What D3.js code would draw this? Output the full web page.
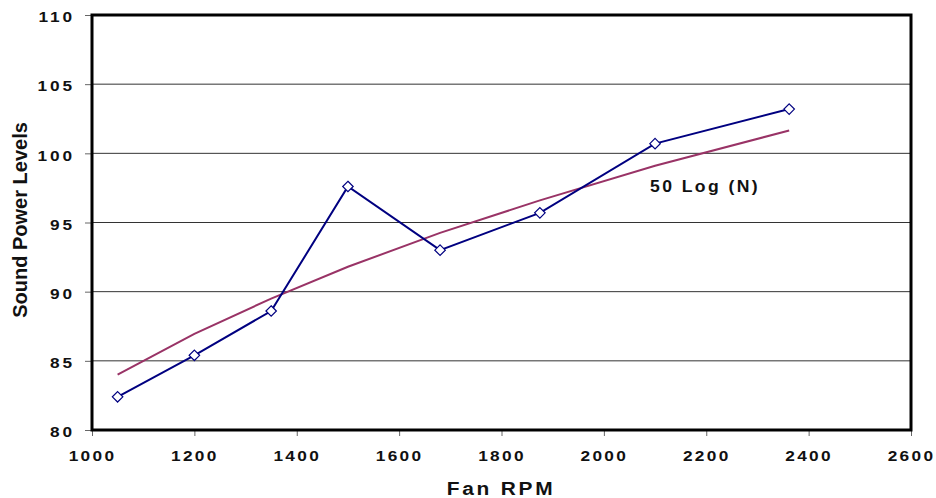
<!DOCTYPE html>
<html><head><meta charset="utf-8">
<script src="https://cdn.jsdelivr.net/npm/d3@7/dist/d3.min.js"></script>
<style>body{margin:0;background:#fff;} text{font-family:"Liberation Sans",Arial,sans-serif;font-weight:bold;}</style>
</head><body><svg id="c" width="936" height="498"></svg>
<script>
const rpm = [1050, 1200, 1350, 1500, 1680, 1875, 2100, 2362];
const measured = [82.4, 85.4, 88.6, 97.6, 93.0, 95.7, 100.7, 103.2];
const fiftyLog = [84.0, 86.95, 89.5, 91.8, 94.25, 96.6, 99.1, 101.65];
const xTicks = [1000, 1200, 1400, 1600, 1800, 2000, 2200, 2400, 2600];
const yTicks = [80, 85, 90, 95, 100, 105, 110];

const svg = d3.select("#c");
const L = 92, R = 911, T = 15, B = 430;
const x = d3.scaleLinear().domain([1000, 2600]).range([L, R]);
const y = d3.scaleLinear().domain([80, 110]).range([B, T]);

// gridlines
svg.append("g").selectAll("line").data(yTicks.slice(1, -1)).join("line")
  .attr("x1", L).attr("x2", R).attr("y1", d => y(d)).attr("y2", d => y(d))
  .attr("stroke", "#333").attr("stroke-width", 1);

// axes
const ya = svg.append("g").attr("transform", `translate(${L},0)`)
  .call(d3.axisLeft(y).tickValues(yTicks).tickSize(7));
const xa = svg.append("g").attr("transform", `translate(0,${B})`)
  .call(d3.axisBottom(x).tickValues(xTicks).tickSize(6).tickFormat(d3.format("d")));
[ya, xa].forEach(a => {
  a.select(".domain").remove();
  a.selectAll(".tick line").attr("stroke", "#666").attr("stroke-width", 1);
  a.selectAll(".tick text").attr("fill", "#111").style("font-size", "15px");
});
ya.selectAll(".tick text").style("letter-spacing", "2.5px").attr("x", 0).attr("dy", "0.45em")
  .attr("transform", "translate(-17,0) scale(1.15,1)");
xa.selectAll(".tick text").style("letter-spacing", "2px").attr("y", 0).attr("dy", 0).attr("x", 0)
  .attr("transform", "translate(0,30.5) scale(1.15,1)");

// frame
svg.append("rect").attr("x", L).attr("y", T).attr("width", R - L).attr("height", B - T)
  .attr("fill", "none").attr("stroke", "#000").attr("stroke-width", 3);

const line = d3.line().x((d, i) => x(rpm[i])).y(d => y(d));
svg.append("path").datum(fiftyLog).attr("d", line).attr("fill", "none")
  .attr("stroke", "#993366").attr("stroke-width", 2);
svg.append("path").datum(measured).attr("d", line).attr("fill", "none")
  .attr("stroke", "#000080").attr("stroke-width", 2);
svg.append("g").selectAll("path").data(measured).join("path")
  .attr("d", d3.symbol(d3.symbolDiamond2, 70))
  .attr("transform", (d, i) => `translate(${x(rpm[i])},${y(d)})`)
  .attr("fill", "#fff").attr("stroke", "#000080").attr("stroke-width", 1.2);

svg.append("text").attr("transform", "translate(650,192) scale(1.1,1)").attr("fill", "#111")
  .style("font-size", "16px").style("letter-spacing", "2.2px").text("50 Log (N)");

svg.append("text").attr("transform", "translate(501,495) scale(1.1,1)").attr("text-anchor", "middle")
  .attr("fill", "#111").style("font-size", "19px").style("letter-spacing", "2.5px").text("Fan RPM");
svg.append("text").attr("transform", `translate(27,220) rotate(-90)`).attr("text-anchor", "middle")
  .attr("fill", "#111").style("font-size", "20px").text("Sound Power Levels");
</script></body></html>
